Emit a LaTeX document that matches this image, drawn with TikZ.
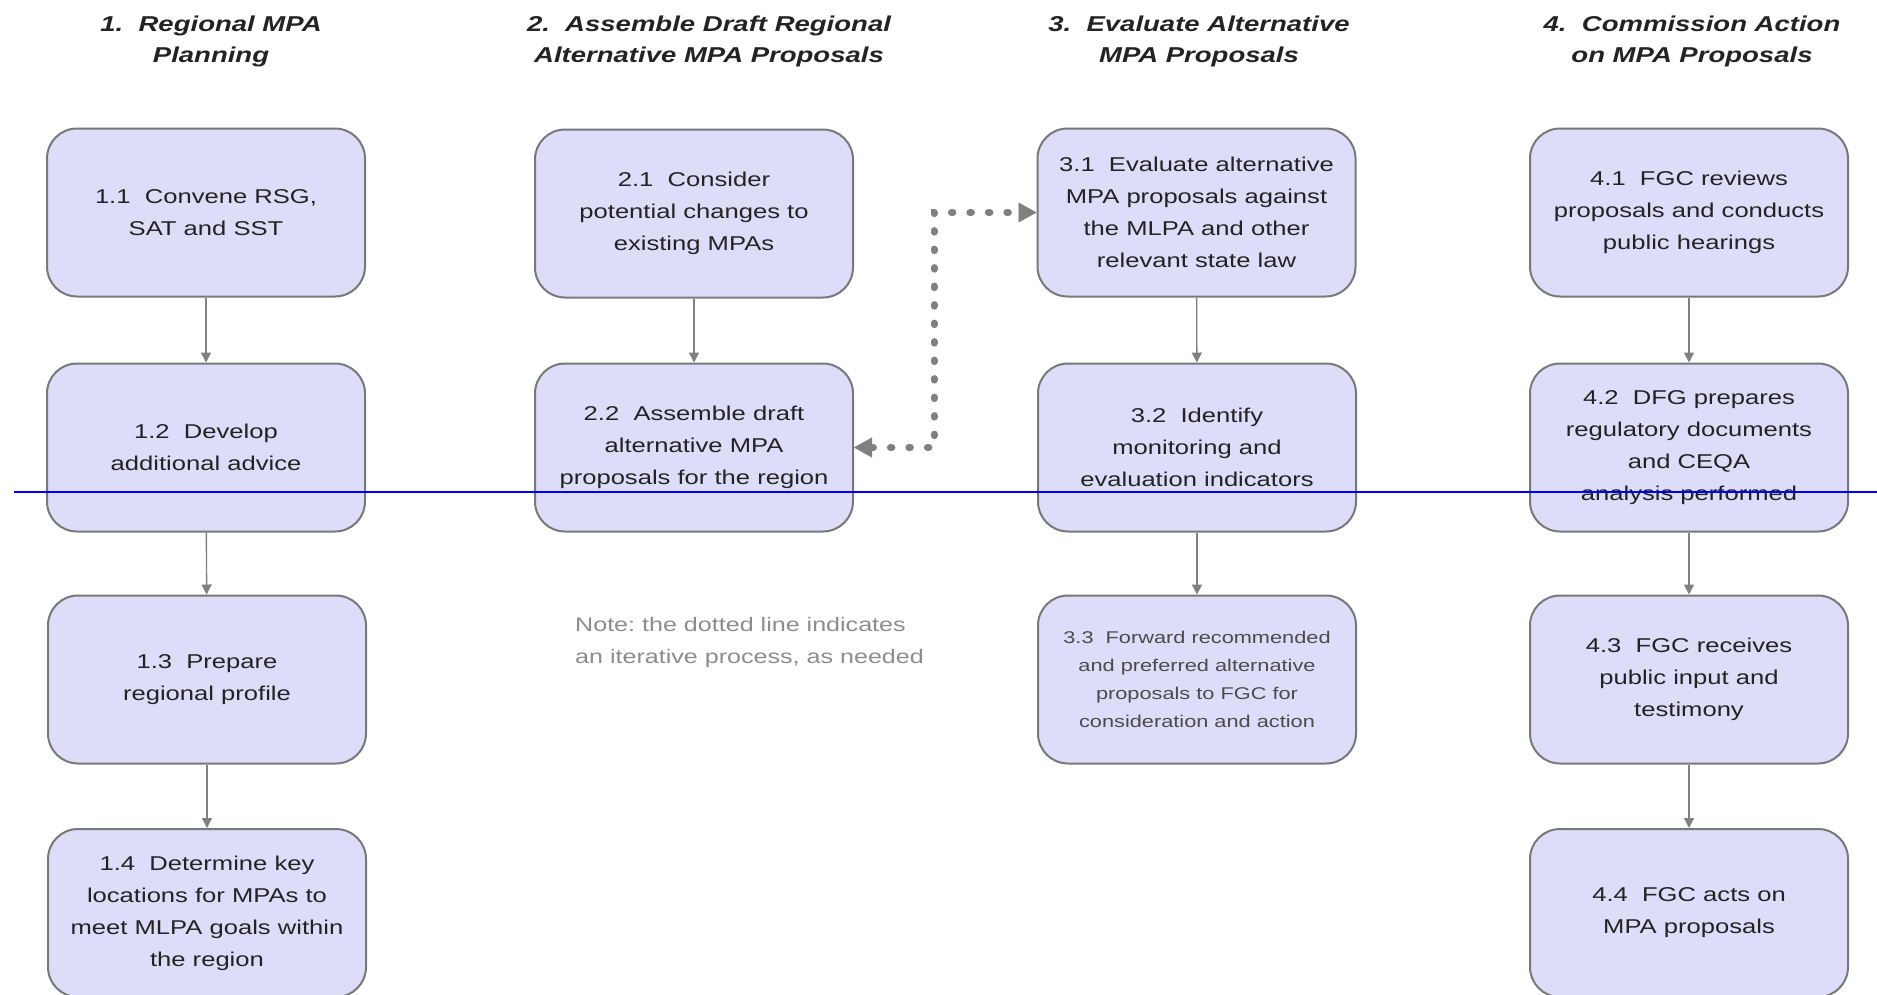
\documentclass[tikz,border=0pt]{standalone}
\usepackage{fontspec}
\setmainfont[FakeStretch=1.28]{Liberation Sans}
\usetikzlibrary{arrows.meta}
\definecolor{boxfill}{RGB}{221,221,249}
\definecolor{boxline}{RGB}{120,120,120}
\definecolor{txt}{RGB}{35,35,35}
\definecolor{txtlight}{RGB}{75,75,75}
\definecolor{notegray}{RGB}{140,140,140}
\definecolor{arrowgray}{RGB}{128,128,128}
\definecolor{cutblue}{RGB}{0,0,240}
\begin{document}
\begin{tikzpicture}[x=1pt,y=-1pt,
  stepbox/.style={draw=boxline, line width=2pt, fill=boxfill, rounded corners=30pt,
    minimum width=318pt, minimum height=168pt, align=center, text=txt,
    font=\fontsize{20}{32}\selectfont, inner sep=0pt},
  smallbox/.style={stepbox, text=txtlight, font=\fontsize{17}{28}\selectfont},
  title/.style={align=center, text=txt, font=\fontsize{21.5}{31}\selectfont\bfseries\itshape},
  conn/.style={draw=arrowgray, line width=1.4pt, -{Triangle[length=10pt,width=10pt]}},
  iter/.style={draw=arrowgray, line width=7pt, line cap=round, dash pattern=on 1.5pt off 17pt,
    {Triangle[length=18pt,width=20pt,line width=0.5pt]}-{Triangle[length=18pt,width=20pt,line width=0.5pt]}},
  note/.style={align=left, text=notegray, font=\fontsize{19.6}{32}\selectfont, anchor=west, inner sep=0pt}
]
\useasboundingbox (0,0) rectangle (1877,994);

% titles
\node[title] (t1) at (211,41.5) {1.~~Regional MPA\\Planning};
\node[title] (t2) at (709,41.5) {2.~~Assemble Draft Regional\\Alternative MPA Proposals};
\node[title] (t3) at (1199,41.5) {3.~~Evaluate Alternative\\MPA Proposals};
\node[title] (t4) at (1692,41.5) {4.~~Commission Action\\on MPA Proposals};

% column 1
\node[stepbox] (b11) at (206,212.5) {1.1~~Convene RSG,\\SAT and SST};
\node[stepbox] (b12) at (206,447.5) {1.2~~Develop\\additional advice};
\node[stepbox] (b13) at (207,679.5) {1.3~~Prepare\\regional profile};
\node[stepbox] (b14) at (207,913) {1.4~~Determine key\\locations for MPAs to\\meet MLPA goals within\\the region};

% column 2
\node[stepbox] (b21) at (694,213.5) {2.1~~Consider\\potential changes to\\existing MPAs};
\node[stepbox] (b22) at (694,447.5) {2.2~~Assemble draft\\alternative MPA\\proposals for the region};

% column 3
\node[stepbox] (b31) at (1196.5,212.5) {3.1~~Evaluate alternative\\MPA proposals against\\the MLPA and other\\relevant state law};
\node[stepbox] (b32) at (1197,447.5) {3.2~~Identify\\monitoring and\\evaluation indicators};
\node[smallbox] (b33) at (1197,679.5) {3.3~~Forward recommended\\and preferred alternative\\proposals to FGC for\\consideration and action};

% column 4
\node[stepbox] (b41) at (1689,212.5) {4.1~~FGC reviews\\proposals and conducts\\public hearings};
\node[stepbox] (b42) at (1689,447.5) {4.2~~DFG prepares\\regulatory documents\\and CEQA\\analysis performed};
\node[stepbox] (b43) at (1689,679.5) {4.3~~FGC receives\\public input and\\testimony};
\node[stepbox] (b44) at (1689,913) {4.4~~FGC acts on\\MPA proposals};

% note
\node[note] (nt) at (575,642) {Note:~the dotted line indicates\\an iterative process,~as needed};

% connectors
\draw[conn] (b11) -- (b12);
\draw[conn] (b12) -- (b13);
\draw[conn] (b13) -- (b14);
\draw[conn] (b21) -- (b22);
\draw[conn] (b31) -- (b32);
\draw[conn] (b32) -- (b33);
\draw[conn] (b41) -- (b42);
\draw[conn] (b42) -- (b43);
\draw[conn] (b43) -- (b44);

\coordinate (turn) at (934,330);
\draw[iter] (b22.east) -| (turn) |- (b31.west);

% horizontal blue rule
\draw[cutblue, line width=2pt] (14,492) -- (1877,492);
\end{tikzpicture}
\end{document}
